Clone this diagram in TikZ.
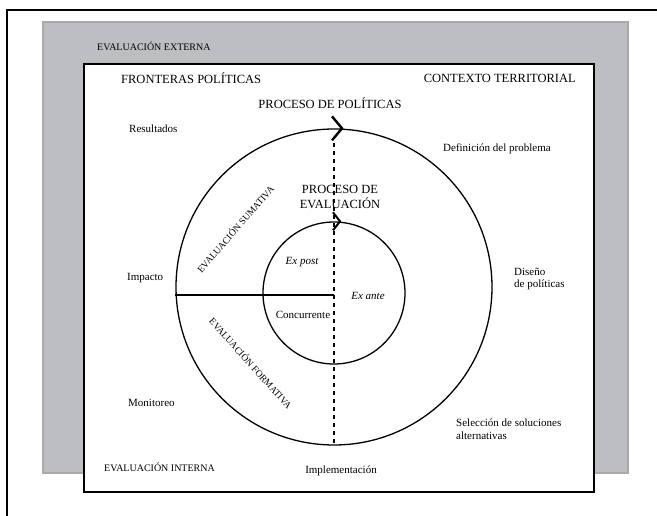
\documentclass[tikz,border=0pt]{standalone}
\usepackage{fontspec}
\setmainfont{Liberation Serif}
\usetikzlibrary{arrows.meta}
\usepackage{xcolor}

\definecolor{panelgray}{HTML}{BDBEC1}
\definecolor{panelrim}{HTML}{A9AAAD}

\tikzset{
  lbl/.style={font=\fontsize{11}{12.5}\selectfont, inner sep=0pt},
  bigcaps/.style={font=\fontsize{12.5}{14.5}\selectfont, inner sep=0pt},
  outcaps/.style={font=\fontsize{10}{12}\selectfont, inner sep=0pt},
  rotcaps/.style={font=\fontsize{9.5}{11}\selectfont, inner sep=0pt},
  ring/.style={circle, draw, line width=1.3pt, inner sep=0pt},
  chevron/.style={line width=#1, line join=miter, line cap=butt},
  dashline/.style={line width=1.8pt, dash pattern=on 4pt off 4pt}
}

\begin{document}
\begin{tikzpicture}[x=1pt, y=-1pt]
        \useasboundingbox (0,0) rectangle (657,516);

        \draw[line width=1.3pt] (7,516)--(7,10)--(657,10);
        \filldraw[fill=panelgray, draw=panelrim, line width=1.2pt] (43,22) rectangle (628,473);
        \filldraw[fill=white, draw=black, line width=1.5pt] (84,64) rectangle (594,492);

        \node[ring, minimum size=316pt] (big) at (334,287) {};
        \node[ring, minimum size=142pt] (small) at (334,293) {};
        \coordinate (mid) at (334,295);

        \draw[line width=1.2pt] (mid) -- (mid -| big.west);
        \draw[dashline] ([yshift=-15pt]big.north) -- (big.south);

        \draw[chevron=2.4pt] ([shift={(-2,-12)}]big.north) -- ([shift={(8,0)}]big.north) -- ([shift={(-2,12)}]big.north);
        \draw[chevron=2pt] ([shift={(-1,-9)}]small.north) -- ([shift={(6,0)}]small.north) -- ([shift={(-1,9)}]small.north);

        \node[outcaps, anchor=west] (ext) at (97,46) {EVALUACIÓN EXTERNA};
        \node[outcaps, anchor=west] (int) at (104,467) {EVALUACIÓN INTERNA};
        \node[bigcaps, anchor=west] (front) at (121,78) {FRONTERAS POLÍTICAS};
        \node[bigcaps, anchor=east] (ctx) at (576,78) {CONTEXTO TERRITORIAL};
        \node[bigcaps] (pol) at (330,103) {PROCESO DE POLÍTICAS};
        \node[bigcaps, align=center] (evl) at (340,197) {PROCESO DE\\EVALUACIÓN};

        \node[lbl, anchor=west] (res) at (129,129) {Resultados};
        \node[lbl, anchor=west] (def) at (443,149) {Definición del problema};
        \node[lbl, anchor=west] (imp) at (127,278) {Impacto};
        \node[lbl, anchor=west, align=left] (dis) at (514,279) {Diseño\\de políticas};
        \node[lbl, anchor=west] (mon) at (128,403) {Monitoreo};
        \node[lbl, anchor=west, align=left] (sel) at (456,429) {Selección de soluciones\\alternativas};
        \node[lbl] (impl) at (341,471) {Implementación};

        \node[lbl, font=\fontsize{11}{12.5}\selectfont\itshape] (post) at (302,262) {Ex post};
        \node[lbl, font=\fontsize{11}{12.5}\selectfont\itshape] (ante) at (368,296) {Ex ante};
        \node[lbl] (conc) at (303,315) {Concurrente};

        \node[rotcaps, rotate=49] (sum) at (235,229) {EVALUACIÓN SUMATIVA};
        \node[rotcaps, rotate=-48] (form) at (251,363) {EVALUACIÓN FORMATIVA};

        \end{tikzpicture}
\end{document}
